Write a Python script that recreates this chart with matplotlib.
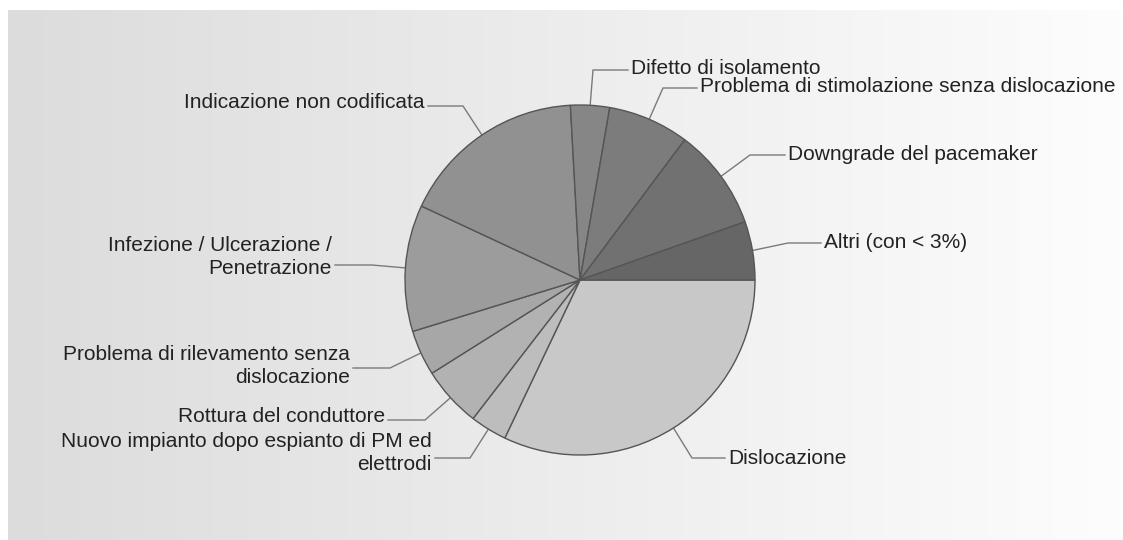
import numpy as np
import matplotlib
matplotlib.use("Agg")
import matplotlib.pyplot as plt
from matplotlib.colors import LinearSegmentedColormap

plt.rcParams['font.family'] = ['Liberation Sans', 'DejaVu Sans']

# data (percent, clockwise from 3 o'clock)
labels = [
    "Dislocazione",
    "Nuovo impianto dopo espianto di PM ed\nelettrodi",
    "Rottura del conduttore",
    "Problema di rilevamento senza\ndislocazione",
    "Infezione / Ulcerazione /\nPenetrazione",
    "Indicazione non codificata",
    "Difetto di isolamento",
    "Problema di stimolazione senza dislocazione",
    "Downgrade del pacemaker",
    "Altri (con < 3%)",
]
values = [32.1, 3.4, 5.6, 4.2, 11.7, 17.2, 3.6, 7.5, 9.4, 5.4]
colors = ['#c8c8c8', '#bdbdbd', '#b2b2b2', '#a7a7a7', '#9c9c9c',
          '#919191', '#868686', '#7c7c7c', '#717171', '#666666']

W, H = 1123, 540
cx, cy, r = 580, 280, 175

# label layout in pixel coords (y measured from top): text x, text y, elbow x, line y, side
label_pos = [
    (728, 458, 692, 458, 'left'),
    (432, 453, 470, 458, 'right'),
    (385, 417, 425, 420, 'right'),
    (350, 366, 390, 368, 'right'),
    (332, 257, 372, 265, 'right'),
    (425, 102, 463, 106, 'right'),
    (631, 68, 593, 70, 'left'),
    (700, 86, 663, 88, 'left'),
    (788, 154, 750, 155, 'left'),
    (824, 242, 788, 243, 'left'),
]

fig = plt.figure(figsize=(W / 100, H / 100), dpi=100)
ax = fig.add_axes([0, 0, 1, 1])
ax.set_xlim(0, W)
ax.set_ylim(0, H)
ax.axis('off')

# background gradient
grad = np.linspace(0, 1, 256).reshape(1, -1)
cmap = LinearSegmentedColormap.from_list('bg', ['#dcdcdc', '#fdfdfd'])
ax.imshow(grad, cmap=cmap, extent=[8, W, 0, H - 10], aspect='auto', zorder=0)

wedges, _ = ax.pie(values, colors=colors, startangle=0, counterclock=False,
                   center=(cx, H - cy), radius=r,
                   wedgeprops=dict(edgecolor='#555555', linewidth=1.0))
for w in wedges:
    w.set_zorder(2)

ax.set_xlim(0, W)
ax.set_ylim(0, H)
ax.set_aspect('equal')

for w, lab, (tx, ty, ex, ly, side) in zip(wedges, labels, label_pos):
    mid = np.deg2rad((w.theta1 + w.theta2) / 2)
    px = cx + r * np.cos(mid)
    py = (H - cy) + r * np.sin(mid)
    gap = 3 if side == 'left' else -3
    ax.plot([px, ex, tx - gap], [py, H - ly, H - ly], color='#7a7a7a', lw=1.0, zorder=1)
    ax.text(tx, H - ty, lab, ha=side, va='center', multialignment=side,
            fontsize=15, color='#222222', linespacing=1.25, zorder=3)

plt.savefig("out.png", dpi=100)
